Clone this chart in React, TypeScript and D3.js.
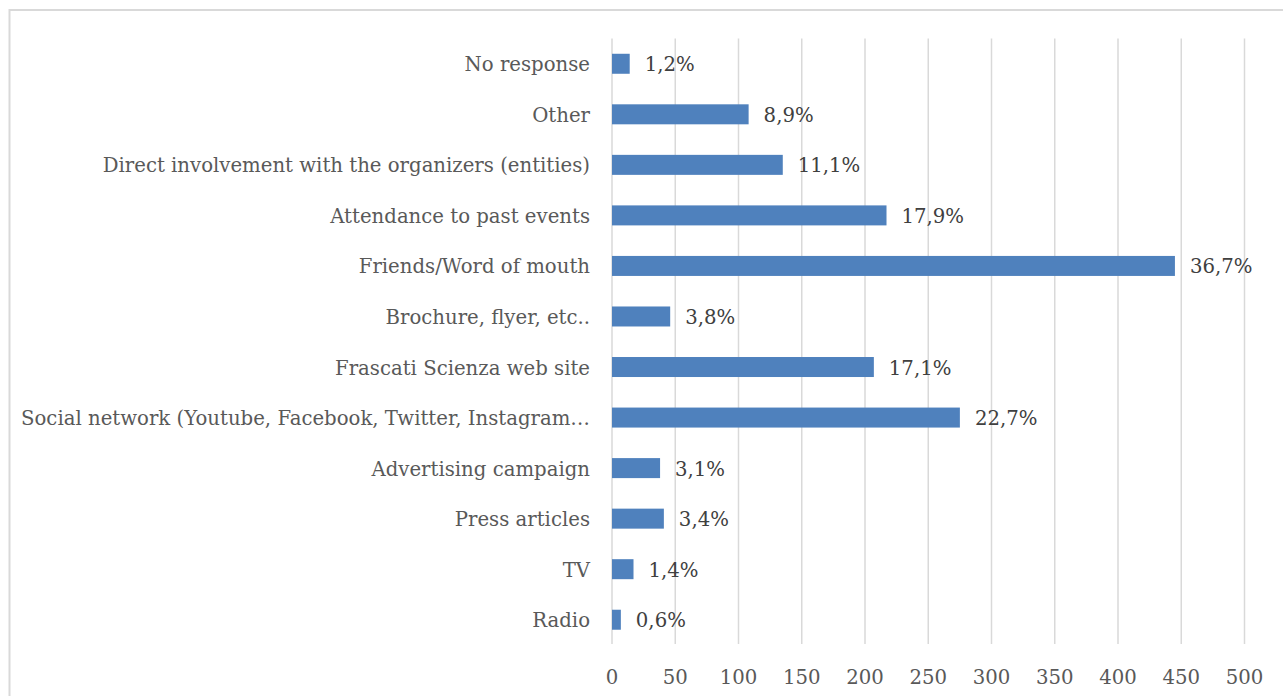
import React, { useEffect, useRef } from "react";
import * as d3 from "d3";

const categories = [
  "No response",
  "Other",
  "Direct involvement with the organizers (entities)",
  "Attendance to past events",
  "Friends/Word of mouth",
  "Brochure, flyer, etc..",
  "Frascati Scienza web site",
  "Social network (Youtube, Facebook, Twitter, Instagram…",
  "Advertising campaign",
  "Press articles",
  "TV",
  "Radio",
];
const values = [14, 108, 135, 217, 445, 46, 207, 275, 38, 41, 17, 7];
const pctLabels = ["1,2%", "8,9%", "11,1%", "17,9%", "36,7%", "3,8%", "17,1%", "22,7%", "3,1%", "3,4%", "1,4%", "0,6%"];
const xTicks = [0, 50, 100, 150, 200, 250, 300, 350, 400, 450, 500];

const W = 1283;
const H = 696;
const FONT = "'DejaVu Serif', serif";
const FS = 19.7;

export default function App() {
  const ref = useRef<SVGSVGElement>(null);
  useEffect(() => {
    const svg = d3.select(ref.current);
    svg.selectAll("*").remove();
    const x = d3.scaleLinear().domain([0, 500]).range([612, 1244.5]);
    const y = d3.scaleBand<string>().domain(categories).range([38.5, 645]).paddingInner(0.6).paddingOuter(0.3);

    svg.append("rect").attr("x", 9.5).attr("y", 10).attr("width", W + 20).attr("height", H + 20)
      .attr("fill", "#fff").attr("stroke", "#d9d9d9").attr("stroke-width", 2);

    svg.append("g").selectAll("line").data(xTicks).join("line")
      .attr("x1", (d) => x(d)).attr("x2", (d) => x(d)).attr("y1", 38.5).attr("y2", 644)
      .attr("stroke", "#d9d9d9").attr("stroke-width", 1.5);

    svg.append("g").selectAll("text").data(xTicks).join("text")
      .attr("x", (d) => x(d)).attr("y", 684).attr("text-anchor", "middle")
      .attr("font-family", FONT).attr("font-size", FS).attr("fill", "#595959")
      .text((d) => String(d));

    const data = categories.map((c, i) => ({ c, v: values[i], p: pctLabels[i] }));
    const bw = 20;
    svg.append("g").selectAll("rect").data(data).join("rect")
      .attr("x", x(0)).attr("y", (d) => y(d.c)! + y.bandwidth() / 2 - bw / 2)
      .attr("width", (d) => x(d.v) - x(0)).attr("height", bw).attr("fill", "#4f81bd");

    svg.append("g").selectAll("text").data(data).join("text")
      .attr("x", 590).attr("y", (d) => y(d.c)! + y.bandwidth() / 2 + 7.5).attr("text-anchor", "end")
      .attr("font-family", FONT).attr("font-size", FS).attr("fill", "#595959")
      .text((d) => d.c);

    svg.append("g").selectAll("text").data(data).join("text")
      .attr("x", (d) => x(d.v) + 15).attr("y", (d) => y(d.c)! + y.bandwidth() / 2 + 7.5)
      .attr("font-family", FONT).attr("font-size", FS).attr("fill", "#404040")
      .text((d) => d.p);
  }, []);
  return (
    <svg ref={ref} width={W} height={H} style={{ position: "fixed", left: 0, top: 0, background: "#fff" }} />
  );
}
